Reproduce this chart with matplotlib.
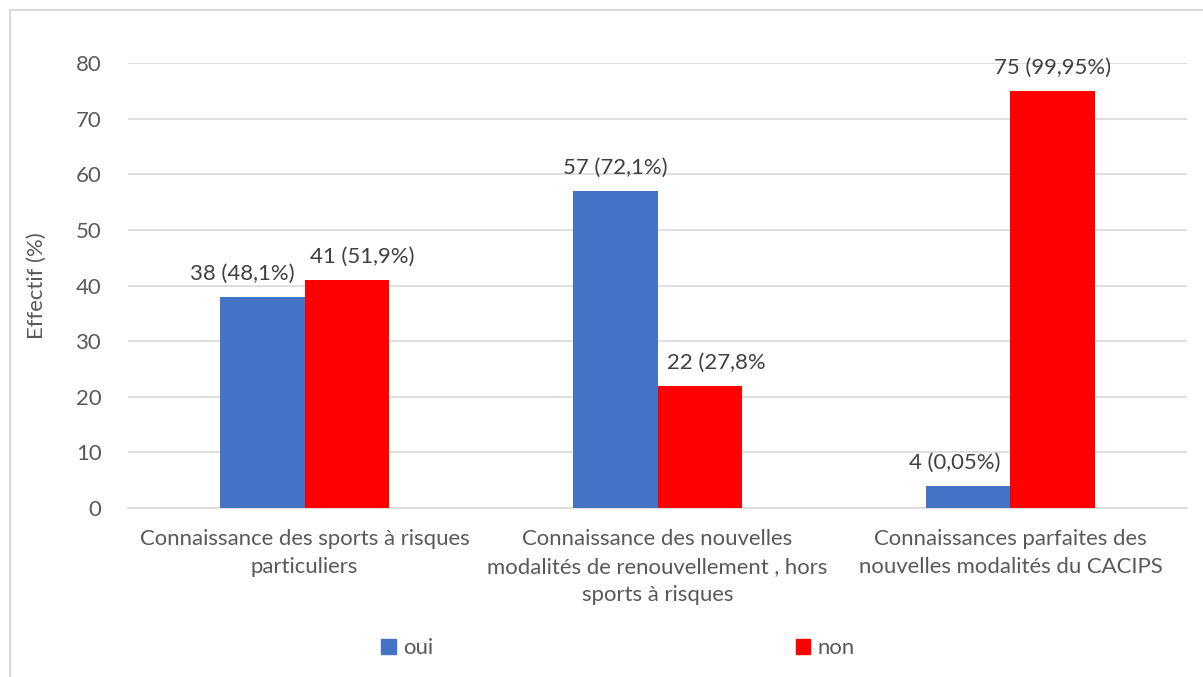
import matplotlib
matplotlib.use("Agg")
import matplotlib.pyplot as plt
from matplotlib.patches import Rectangle, Patch
import numpy as np

categories = ["Connaissance des sports à risques\nparticuliers",
              "Connaissance des nouvelles\nmodalités de renouvellement , hors\nsports à risques",
              "Connaissances parfaites des\nnouvelles modalités du CACIPS"]
oui = [38, 57, 4]
non = [41, 22, 75]
oui_labels = ["38 (48,1%)", "57 (72,1%)", "4 (0,05%)"]
non_labels = ["41 (51,9%)", "22 (27,8%", "75 (99,95%)"]
yticks = [0, 10, 20, 30, 40, 50, 60, 70, 80]

# horizontal nudges of data labels (pixels), as placed in the original
oui_dx = [-20, 0, -14]
non_dx = [16, 17, 0]

plt.rcParams['font.family'] = ['Lato', 'DejaVu Sans']
FS = 15.9
W, H = 1203, 677
fig = plt.figure(figsize=(W/100, H/100), dpi=100)
ax = fig.add_axes([128/W, 1-508/H, (1187-128)/W, (508-63)/H])

x = np.arange(len(categories))
bw = 0.238
ax.bar(x - bw/2, oui, bw, color="#4472C4", label="oui", zorder=3)
ax.bar(x + bw/2, non, bw, color="#FF0000", label="non", zorder=3)

for i in range(len(x)):
    ax.annotate(oui_labels[i], (x[i] - bw/2, oui[i]), xytext=(oui_dx[i], 17), textcoords="offset pixels",
                ha="center", va="baseline", fontsize=FS, color="#404040")
    ax.annotate(non_labels[i], (x[i] + bw/2, non[i]), xytext=(non_dx[i], 17), textcoords="offset pixels",
                ha="center", va="baseline", fontsize=FS, color="#404040")

ax.set_xlim(-0.5, 2.5)
ax.set_ylim(0, 80)
ax.set_yticks(yticks)
ax.yaxis.grid(True, color="#D9D9D9", linewidth=1.2, zorder=0)
ax.tick_params(axis="both", length=0, labelsize=FS, labelcolor="#595959")
ax.tick_params(axis="y", pad=19)
ax.tick_params(axis="x", pad=15)
ax.set_xticks(x)
ax.set_xticklabels(categories, linespacing=1.5)
for s in ["top", "right", "left"]:
    ax.spines[s].set_visible(False)
ax.spines["bottom"].set_color("#D9D9D9")
ax.spines["bottom"].set_linewidth(1.2)
ax.set_ylabel("Effectif (%)", fontsize=FS, color="#595959", labelpad=21)

handles = [Patch(color="#4472C4", label="oui"), Patch(color="#FF0000", label="non")]
fig.legend(handles=handles, loc="center", bbox_to_anchor=(618/W, 1-648/H), ncol=2,
           frameon=False, fontsize=FS, handlelength=0.66, handleheight=0.66,
           handletextpad=0.35, columnspacing=16.4, labelcolor="#595959")

fig.patches.append(Rectangle((10/W, -0.1), 1.2, 1-10/H+0.1, transform=fig.transFigure,
                             fill=False, edgecolor="#D9D9D9", linewidth=1.5))
fig.savefig("out.png", dpi=100, facecolor="white")
